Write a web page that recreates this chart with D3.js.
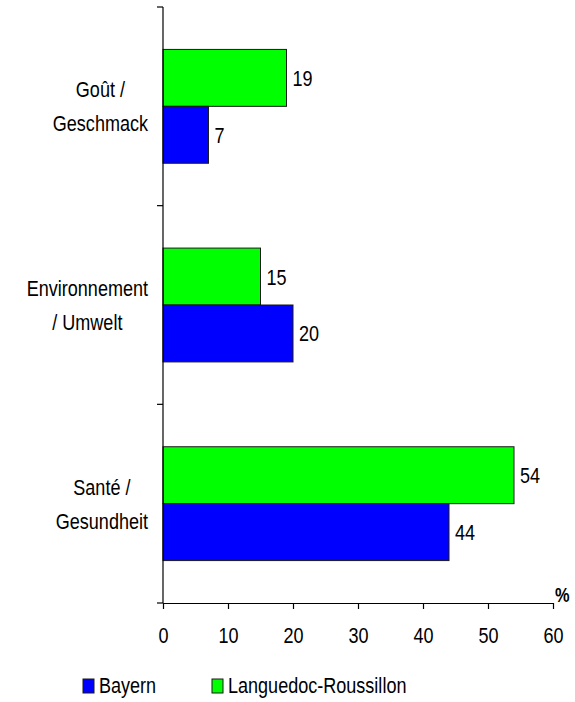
<!DOCTYPE html>
<html>
<head>
<meta charset="utf-8">
<script src="https://cdn.jsdelivr.net/npm/d3@7"></script>
<style>
  html, body { margin: 0; padding: 0; background: #fff; }
  svg text { font-family: "Liberation Sans", Arial, sans-serif; fill: #000; }
</style>
</head>
<body>
<svg id="chart" width="575" height="702"></svg>
<script>
// ---- data ----
const categories = [["Goût /", "Geschmack"], ["Environnement", "/ Umwelt"], ["Santé /", "Gesundheit"]];
const categoryKeys = ["Gout", "Environnement", "Sante"];
const seriesNames = ["Languedoc-Roussillon", "Bayern"];   // top-to-bottom within a group
const bayern = [7, 20, 44];
const languedoc = [19, 15, 54];
const xTicks = [0, 10, 20, 30, 40, 50, 60];
const legendOrder = ["Bayern", "Languedoc-Roussillon"];
const colors = { "Bayern": "#0000FF", "Languedoc-Roussillon": "#00FF00" };
const unitLabel = "%";

const svg = d3.select("#chart");
const FS = 22;
const SX = 0.82; // horizontal condensing (Arial Narrow look)

// place a text element at (px,py) with horizontal condensing
function placeText(parent, px, py, str, opts = {}) {
  return parent.append("text")
    .attr("transform", `translate(${px},${py}) scale(${SX},1)`)
    .attr("font-size", opts.size || FS)
    .attr("font-weight", opts.weight || "normal")
    .attr("text-anchor", opts.anchor || "start")
    .text(str);
}

const x = d3.scaleLinear().domain([0, 60]).range([163, 553]);
const y0 = d3.scaleBand().domain(categoryKeys).range([7, 603]).padding(0);
const y1 = d3.scaleBand().domain(seriesNames)
  .range([y0.bandwidth() * 0.2135, y0.bandwidth() * 0.7865]).padding(0);

const valuesBySeries = { "Bayern": bayern, "Languedoc-Roussillon": languedoc };
const rows = [];
categoryKeys.forEach((c, i) => {
  seriesNames.forEach(s => rows.push({ cat: c, series: s, value: valuesBySeries[s][i] }));
});

// bars
const g = svg.append("g");
g.selectAll("rect.bar").data(rows).enter().append("rect")
  .attr("class", "bar")
  .attr("x", x(0))
  .attr("y", d => y0(d.cat) + y1(d.series))
  .attr("width", d => x(d.value) - x(0))
  .attr("height", y1.bandwidth())
  .attr("fill", d => colors[d.series])
  .attr("stroke", "#1a1a1a")
  .attr("stroke-width", 1);

// value labels
rows.forEach(d => {
  placeText(g, x(d.value) + 6, y0(d.cat) + y1(d.series) + y1.bandwidth() / 2 + 8, d.value);
});

// x axis
const xAxis = svg.append("g")
  .attr("transform", `translate(0,${y0.range()[1]})`)
  .call(d3.axisBottom(x).tickValues(xTicks).tickSize(6).tickSizeOuter(0).tickPadding(18));
xAxis.select(".domain").attr("stroke", "#000").attr("stroke-width", 1.2);
xAxis.selectAll(".tick line").attr("stroke", "#000").attr("stroke-width", 1.2);
xAxis.selectAll(".tick text").attr("font-size", FS)
  .attr("transform", `scale(${SX},1)`);

// y axis line + boundary ticks
const yBounds = categoryKeys.map(c => y0(c)).concat([y0.range()[1]]);
svg.append("line")
  .attr("x1", x(0)).attr("x2", x(0))
  .attr("y1", y0.range()[0]).attr("y2", y0.range()[1])
  .attr("stroke", "#000").attr("stroke-width", 1.2);
svg.selectAll("line.ytick").data(yBounds).enter().append("line")
  .attr("class", "ytick")
  .attr("x1", x(0) - 6).attr("x2", x(0))
  .attr("y1", d => d).attr("y2", d => d)
  .attr("stroke", "#000").attr("stroke-width", 1.2);

// category labels: lines centred within a block right-aligned at x=148
categoryKeys.forEach((c, i) => {
  const cy = y0(c) + y0.bandwidth() / 2;
  const lines = categories[i];
  const ts = lines.map((ln, j) => placeText(svg, 0, cy - 9 + j * 34, ln, { anchor: "middle" }));
  const maxW = d3.max(ts, t => t.node().getComputedTextLength()) * SX;
  ts.forEach((t, j) => t.attr("transform", `translate(${148 - maxW / 2},${cy - 9 + j * 34}) scale(${SX},1)`));
});

// unit label
placeText(svg, x(60) + 2, y0.range()[1] - 1, unitLabel, { size: 20, weight: "bold" });

// legend
const legendPos = { "Bayern": 83, "Languedoc-Roussillon": 212 };
legendOrder.forEach(s => {
  const lx = legendPos[s];
  svg.append("rect").attr("x", lx).attr("y", 679).attr("width", 11).attr("height", 14)
    .attr("fill", colors[s]).attr("stroke", "#1a1a1a").attr("stroke-width", 1);
  placeText(svg, lx + 16, 693, s);
});
</script>
</body>
</html>
